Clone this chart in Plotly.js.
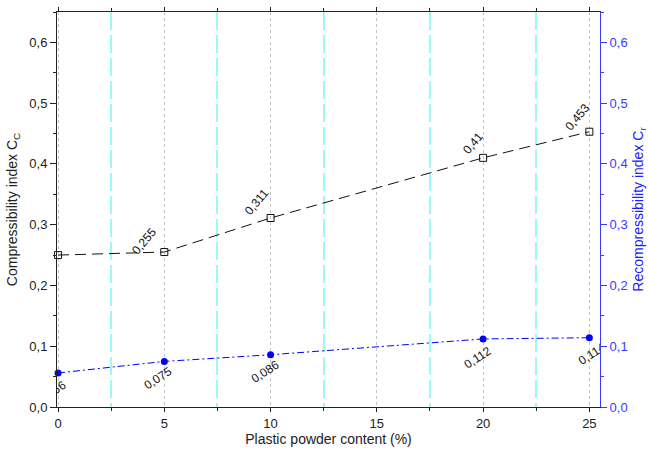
<!DOCTYPE html>
<html>
<head>
<meta charset="utf-8">
<script src="https://cdn.plot.ly/plotly-3.0.1.min.js"></script>
<style>html,body{margin:0;padding:0;background:#fff}#chart{width:648px;height:452px}</style>
</head>
<body>
<div id="chart"></div>
<script>
const plasticContent = [0, 5, 10, 20, 25];
const compressionIndex = [0.25, 0.255, 0.311, 0.41, 0.453];
const recompressionIndex = [0.056, 0.075, 0.086, 0.112, 0.114];
const yTickVals = [0, 0.1, 0.2, 0.3, 0.4, 0.5, 0.6];
const xTickVals = [0, 5, 10, 15, 20, 25];
const xMinorTickVals = [2.5, 7.5, 12.5, 17.5, 22.5];

// label placement (pixels) – styling only
const ccShiftX = [-12, -20, -14, -10, -12];
const ccShiftY = [15, 11, 16, 15, 15];
const crShiftX = [-6, -6, -6, -6, 2];
const crShiftY = [-19, -17, -17, -19, -16];

const fmt = v => String(v).replace('.', ',');
const FONT = 'Liberation Sans, Arial, sans-serif';

const traces = [
  {
    x: plasticContent, y: compressionIndex, type: 'scatter', mode: 'lines+markers',
    line: {color: '#111', width: 1, dash: '11px,6px'},
    marker: {symbol: 'square-open', size: 7, color: '#111', line: {width: 1, color: '#111'}},
    yaxis: 'y', showlegend: false, cliponaxis: false
  },
  {
    x: plasticContent, y: recompressionIndex, type: 'scatter', mode: 'lines+markers',
    line: {color: '#0000ff', width: 1, dash: '7px,3px,2px,3px'},
    marker: {symbol: 'circle', size: 7, color: '#0000ff'},
    yaxis: 'y2', showlegend: false, cliponaxis: false
  }
];

const annotations = [];
plasticContent.forEach((x, i) => {
  annotations.push({
    x: x, y: compressionIndex[i], xref: 'x', yref: 'y', text: fmt(compressionIndex[i]),
    showarrow: false, textangle: -50, xshift: ccShiftX[i], yshift: ccShiftY[i],
    font: {family: FONT, size: 12, color: '#111'}
  });
  annotations.push({
    x: x, y: recompressionIndex[i], xref: 'x', yref: 'y2', text: fmt(recompressionIndex[i]),
    showarrow: false, textangle: -33, xshift: crShiftX[i], yshift: crShiftY[i],
    font: {family: FONT, size: 12, color: '#111'}
  });
});

const layout = {
  width: 648, height: 452,
  margin: {l: 57, r: 48, t: 12, b: 45},
  paper_bgcolor: '#fff', plot_bgcolor: '#fff',
  separators: ', ',
  font: {family: FONT, size: 13, color: '#222'},
  xaxis: {
    range: [-0.05, 25.5], tickvals: xTickVals, ticktext: xTickVals.map(String),
    showline: true, linecolor: '#222', linewidth: 1, mirror: 'ticks',
    ticks: 'outside', ticklen: 4, tickcolor: '#222',
    showgrid: true, gridcolor: '#c4c4c4', griddash: 'dot', gridwidth: 1,
    zeroline: false,
    minor: {tickvals: xMinorTickVals, ticks: 'outside', ticklen: 3, tickcolor: '#222',
            showgrid: true, gridcolor: '#9cf9f9', griddash: '18px,5px', gridwidth: 2},
    title: {text: 'Plastic powder content (%)', font: {family: FONT, size: 14, color: '#222'}, standoff: 4},
    tickfont: {family: FONT, size: 13, color: '#222'}
  },
  yaxis: {
    range: [0, 0.65], tickvals: yTickVals, tickformat: '.1f',
    showline: true, linecolor: '#222', linewidth: 1,
    ticks: 'outside', ticklen: 6, tickcolor: '#222',
    showgrid: false, zeroline: false,
    minor: {dtick: 0.05, tick0: 0, ticks: 'outside', ticklen: 3, tickcolor: '#222', showgrid: false},
    title: {text: 'Compressibility index C<sub>C</sub>', font: {family: FONT, size: 14, color: '#222'}, standoff: 8},
    tickfont: {family: FONT, size: 13, color: '#222'}
  },
  yaxis2: {
    overlaying: 'y', side: 'right',
    range: [0, 0.65], tickvals: yTickVals, tickformat: '.1f',
    showline: true, linecolor: '#3a3aff', linewidth: 1,
    ticks: 'outside', ticklen: 6, tickcolor: '#3a3aff',
    showgrid: false, zeroline: false,
    minor: {dtick: 0.05, tick0: 0, ticks: 'outside', ticklen: 3, tickcolor: '#3a3aff', showgrid: false},
    title: {text: 'Recompressibility index C<sub>r</sub>', font: {family: FONT, size: 14, color: '#2020ff'}, standoff: 8},
    tickfont: {family: FONT, size: 13, color: '#3a3aff'}
  },
  annotations: annotations
};

Plotly.newPlot('chart', traces, layout, {displayModeBar: false, staticPlot: true}).then(gd => {
  try {
    const fl = gd._fullLayout;
    const xa = fl.xaxis, ya = fl.yaxis;
    const anns = gd.querySelectorAll('g.annotation');
    if (!anns.length) return;
    const svg = anns[0].ownerSVGElement;
    const NS = 'http://www.w3.org/2000/svg';
    let defs = svg.querySelector('defs');
    if (!defs) { defs = document.createElementNS(NS, 'defs'); svg.insertBefore(defs, svg.firstChild); }
    const cp = document.createElementNS(NS, 'clipPath');
    cp.setAttribute('id', 'annPlotClip');
    const r = document.createElementNS(NS, 'rect');
    r.setAttribute('x', xa._offset); r.setAttribute('y', ya._offset);
    r.setAttribute('width', xa._length); r.setAttribute('height', ya._length);
    cp.appendChild(r); defs.appendChild(cp);
    anns.forEach(a => a.setAttribute('clip-path', 'url(#annPlotClip)'));
  } catch (e) { console.log(e); }
});
</script>
</body>
</html>
